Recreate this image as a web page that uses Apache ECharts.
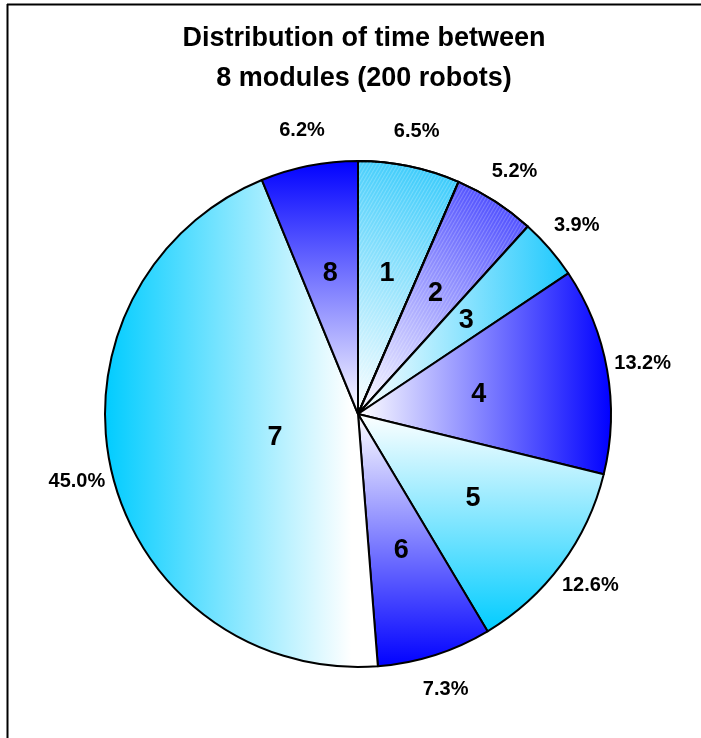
<!DOCTYPE html>
<html>
<head>
<meta charset="utf-8">
<script src="https://cdn.jsdelivr.net/npm/echarts@6/dist/echarts.min.js"></script>
<style>
  html, body { margin: 0; padding: 0; background: #fff; overflow: hidden; }
  #chart { width: 701px; height: 738px; }
</style>
</head>
<body>
<div id="chart"></div>
<script>
// Share of time spent in each module (percent)
const modules = ['1', '2', '3', '4', '5', '6', '7', '8'];
const shares = [6.5, 5.2, 3.9, 13.2, 12.6, 7.3, 45.0, 6.2];

const FONT = '"Liberation Sans", Arial, Helvetica, sans-serif';
const BLUE = '#0000ff';
const CYAN = '#00ccff';

function grad(x, y, x2, y2, stops) {
  return new echarts.graphic.LinearGradient(x, y, x2, y2,
    stops.map(s => ({ offset: s[0], color: s[1] })));
}

// Fill of each slice, in module order
const fills = [
  grad(0, 1, 1, 0, [[0, '#ffffff'], [1, '#2ec8fb']]),
  grad(0, 1, 1, 0, [[0, '#ffffff'], [1, '#3a3aff']]),
  grad(0, 0, 1, 0, [[0, '#ffffff'], [1, '#1cc8fd']]),
  grad(0, 0, 1, 0, [[0, '#ffffff'], [1, BLUE]]),
  grad(0, 0, 0, 1, [[0, '#ffffff'], [1, CYAN]]),
  grad(0, 0, 0, 1, [[0, '#ffffff'], [1, BLUE]]),
  grad(0, 0, 1, 0, [[0, CYAN], [0.9, '#ffffff'], [1, '#ffffff']]),
  grad(0, 0, 0, 1, [[0, BLUE], [1, '#ffffff']])
];

// Fine diagonal hatching on the first two slices
const hatch = {
  symbol: 'rect',
  symbolSize: 1,
  color: 'rgba(255,255,255,0.22)',
  dashArrayX: [1, 0],
  dashArrayY: [1, 2],
  rotation: -Math.PI / 3
};

// Small nudges for a few module-number labels
const numberNudge = { 3: [-20, 5], 6: [56, -10] };

const CENTER = [358, 414];
const R = 253;

const pieData = modules.map((m, i) => ({
  name: m,
  value: shares[i],
  itemStyle: Object.assign(
    { color: fills[i] },
    i < 2 ? { decal: hatch } : {}
  )
}));

const labelData = modules.map((m, i) => ({ name: m, value: shares[i] }));

const chart = echarts.init(document.getElementById('chart'));
chart.setOption({
  animation: false,
  title: {
    text: 'Distribution of time between\n8 modules (200 robots)',
    left: 359,
    top: 14,
    textAlign: 'center',
    textStyle: {
      fontFamily: FONT,
      fontWeight: 'bold',
      fontSize: 27,
      lineHeight: 40,
      color: '#000'
    }
  },
  graphic: [
    // frame along the top and left edges
    { type: 'line', shape: { x1: 7, y1: 4.5, x2: 701, y2: 4.5 }, style: { stroke: '#000', lineWidth: 2 } },
    { type: 'line', shape: { x1: 7.5, y1: 4, x2: 7.5, y2: 738 }, style: { stroke: '#000', lineWidth: 2 } }
  ],
  series: [
    {
      type: 'pie',
      center: CENTER,
      radius: [0, R],
      startAngle: 90,
      clockwise: true,
      silent: true,
      itemStyle: { borderColor: '#000', borderWidth: 2 },
      label: { show: false },
      labelLine: { show: false },
      data: pieData
    },
    {
      // module numbers inside the slices
      type: 'pie',
      center: CENTER,
      radius: [0, 280],
      startAngle: 90,
      clockwise: true,
      silent: true,
      itemStyle: { color: 'rgba(0,0,0,0)', borderWidth: 0 },
      label: {
        show: true,
        position: 'inside',
        formatter: '{b}',
        fontFamily: FONT,
        fontWeight: 'bold',
        fontSize: 27,
        color: '#000'
      },
      labelLayout: function (p) {
        const n = numberNudge[p.dataIndex];
        return n ? { dx: n[0], dy: n[1] } : {};
      },
      labelLine: { show: false },
      data: labelData
    },
    {
      // percentages around the rim
      type: 'pie',
      center: CENTER,
      radius: [R, 319],
      startAngle: 90,
      clockwise: true,
      silent: true,
      itemStyle: { color: 'rgba(0,0,0,0)', borderWidth: 0 },
      label: {
        show: true,
        position: 'inside',
        formatter: function (p) { return p.value.toFixed(1) + '%'; },
        fontFamily: FONT,
        fontWeight: 'bold',
        fontSize: 20,
        color: '#000'
      },
      labelLine: { show: false },
      data: labelData
    }
  ]
});
</script>
</body>
</html>
